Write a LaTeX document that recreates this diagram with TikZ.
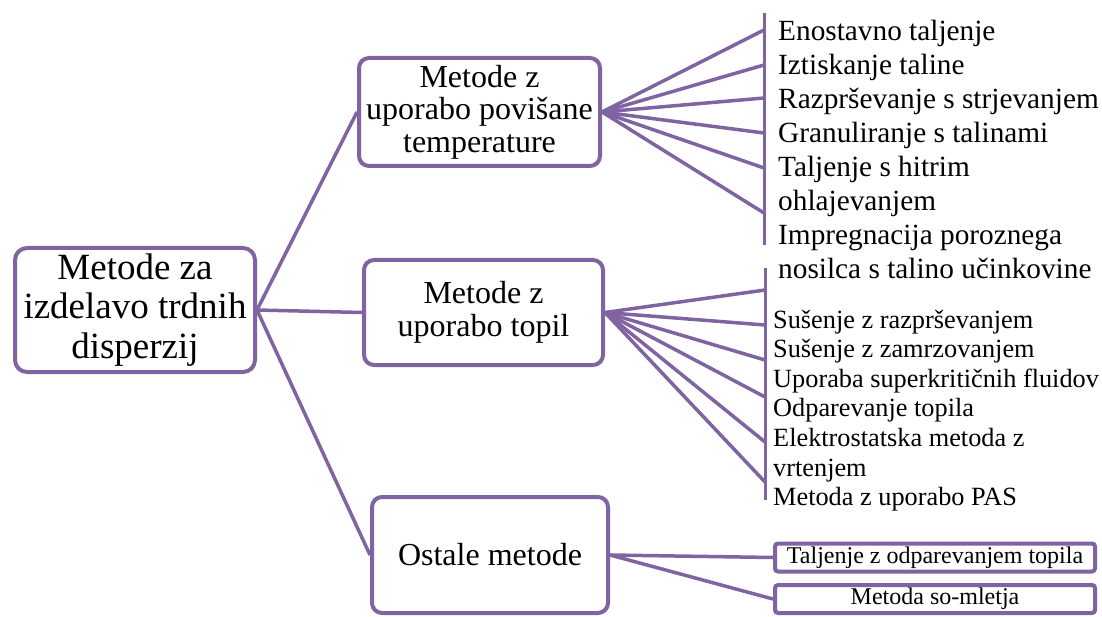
\documentclass[tikz,border=0pt]{standalone}
\usepackage{fontspec}
\setmainfont{Liberation Serif}
\definecolor{vijola}{RGB}{128,100,162}

\begin{document}
\begin{tikzpicture}[
        % 1 单位 = 1pt,y 轴向下
        x=1pt, y=-1pt,
        link/.style={line width=3.5pt, vijola},
        barLine/.style={line width=3pt, vijola},
        boxBase/.style={draw=vijola, line width=4pt, fill=white, align=center, inner sep=0pt},
        rootBox/.style={boxBase, rounded corners=12pt, minimum width=240pt, minimum height=124pt, font=\fontsize{37}{39.5}\selectfont},
        midBox/.style={boxBase, rounded corners=10pt, font=\fontsize{32}{32.5}\selectfont},
        leafBox/.style={boxBase, rounded corners=3pt, minimum width=320pt, minimum height=28pt, font=\fontsize{24}{26}\selectfont},
        % 多行文字:base 取最后一行的基线
        itemBig/.style={anchor=base west, inner sep=0pt, align=left, font=\fontsize{29.3}{34}\selectfont},
        itemSmall/.style={anchor=base west, inner sep=0pt, align=left, font=\fontsize{26.3}{29.6}\selectfont}
    ]

    % --- 参数定义 ---
    \def\barA{764}   % 上方竖线
    \def\barB{765}   % 下方竖线

    \useasboundingbox (0,0) rectangle (1102,617);

    % --- 1. 方框 ---
    \node[rootBox] (root) at (135,310) {Metode za\\izdelavo trdnih\\disperzij};
    \node[midBox, minimum width=241pt, minimum height=108pt] (temp) at (479.5,112) {Metode z\\uporabo povišane\\temperature};
    \node[midBox, minimum width=239pt, minimum height=105pt] (topil) at (483.5,312.5) {Metode z\\uporabo topil};
    \node[midBox, minimum width=236pt, minimum height=116pt] (ostale) at (490,555) {Ostale metode};

    % --- 2. 主连线 ---
    \draw[link] (root.east) -- (temp.west);
    \draw[link] (root.east) -- (topil.west);
    \draw[link] (root.east) -- (ostale.west);

    % --- 3. 上方扇形 ---
    \coordinate (barAtop) at (\barA,13);
    \coordinate (barAbot) at (\barA,245);
    \draw[barLine] (barAtop) -- (barAbot);
    \foreach \yy [count=\i] in {30,65,98,133,168,213} {
        \coordinate (ta\i) at (\barA,\yy);
        \draw[link] (temp.east) -- (ta\i);
    }

    \node[itemBig] (enost) at (778,40.5) {Enostavno taljenje};
    \node[itemBig] (iztis) at (778,74.5) {Iztiskanje taline};
    \node[itemBig] (razpr) at (778,108.5) {Razprševanje s strjevanjem};
    \node[itemBig] (granu) at (778,142.5) {Granuliranje s talinami};
    \node[itemBig] (hitri) at (778,210.5) {Taljenje s hitrim\\ohlajevanjem};
    \node[itemBig] (impre) at (778,278.5) {Impregnacija poroznega\\nosilca s talino učinkovine};

    % --- 4. 中间扇形 ---
    \coordinate (barBtop) at (\barB,268);
    \coordinate (barBbot) at (\barB,500);
    \draw[barLine] (barBtop) -- (barBbot);
    \foreach \yy [count=\i] in {290,325,360,397,442,482} {
        \coordinate (tb\i) at (\barB,\yy);
        \draw[link] (topil.east) -- (tb\i);
    }

    \node[itemSmall] (susra) at (773,328) {Sušenje z razprševanjem};
    \node[itemSmall] (susza) at (773,357.6) {Sušenje z zamrzovanjem};
    \node[itemSmall] (super) at (773,387.2) {Uporaba superkritičnih fluidov};
    \node[itemSmall] (odpar) at (773,416.8) {Odparevanje topila};
    \node[itemSmall] (elekt) at (773,476) {Elektrostatska metoda z\\vrtenjem};
    \node[itemSmall] (pas) at (773,505.6) {Metoda z uporabo PAS};

    % --- 5. 下方两个小框 ---
    \node[leafBox] (odtop) at (935,557.5) {Taljenje z odparevanjem topila};
    \node[leafBox] (mlet) at (935,599) {Metoda so-mletja};
    \draw[link] (ostale.east) -- (odtop.west);
    \draw[link] (ostale.east) -- (mlet.west);

\end{tikzpicture}
\end{document}
